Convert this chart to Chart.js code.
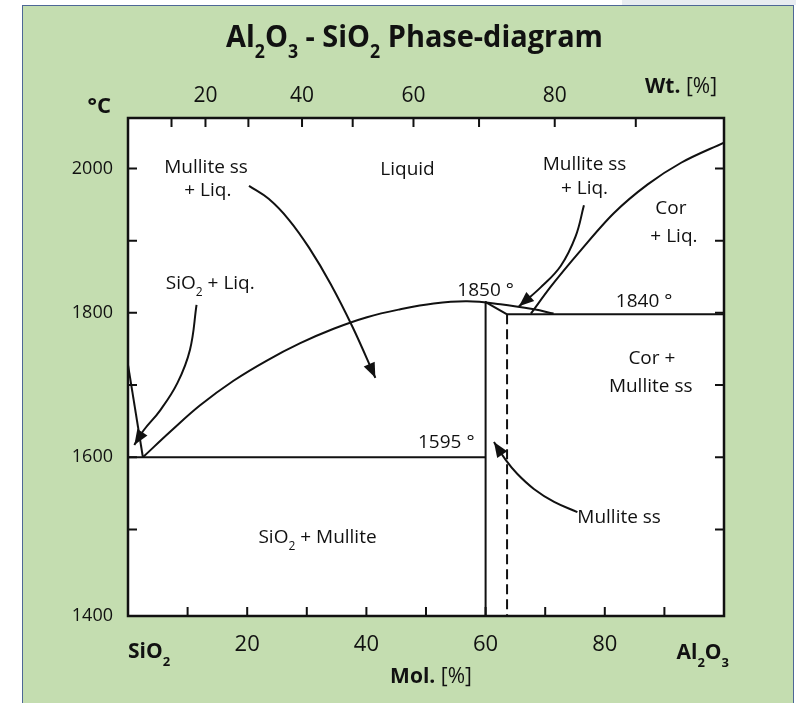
<!DOCTYPE html>
<html>
<head>
<meta charset="utf-8">
<title>Al2O3 - SiO2 Phase-diagram</title>
<script src="https://cdn.jsdelivr.net/npm/chart.js@4.4.1/dist/chart.umd.min.js"></script>
<style>
  html, body { margin: 0; padding: 0; background: #fff; }
  #wrap { position: relative; width: 796px; height: 703px; overflow: hidden; }
  #band { position: absolute; left: 622px; top: 0; width: 174px; height: 5px; background: #e8ecf1; }
  #panel { position: absolute; left: 22px; top: 5px; width: 770px; height: 720px; background: #c4ddb0; border: 1.5px solid #4d6796; }
  #chart { position: absolute; left: 0; top: 0; }
</style>
</head>
<body>
<div id="wrap">
  <div id="band"></div>
  <div id="panel"></div>
  <canvas id="chart" width="796" height="703"></canvas>
</div>
<script>
// x = mol.% Al2O3, y = temperature in °C

// phase boundaries
const liquidusSiO2X = [0, 2.5];
const liquidusSiO2T = [1728, 1600];
const liquidusMulliteX = [2.5, 7.3, 12.1, 17.7, 23.3, 28.9, 34.5, 40.1, 45.7, 51.3, 56.9, 62.5, 68.1, 71.4];
const liquidusMulliteT = [1600, 1637, 1672, 1706, 1734, 1758, 1778, 1794, 1805, 1813, 1816, 1812, 1805, 1799];
const liquidusCorX = [67.6, 70.9, 76.0, 81.5, 87.2, 92.8, 100];
const liquidusCorT = [1799, 1836, 1887, 1938, 1978, 2008, 2036];
const eutecticX = [0, 60];            // 1595 °
const eutecticT = [1600, 1600];
const peritecticX = [63.6, 100];      // 1840 °
const peritecticT = [1798, 1798];
const mulliteLeftX = [60, 60];
const mulliteLeftT = [1815, 1380];
const mulliteTopX = [60, 63.6];
const mulliteTopT = [1815, 1798];
const mulliteRightX = [63.6, 63.6];
const mulliteRightT = [1798, 1380];

// leader arrows (the last point is the arrow tip)
const arrowSiO2LiqX = [11.5, 10.4, 8.3, 5.4, 2.6, 1.06];
const arrowSiO2LiqT = [1811, 1749, 1703, 1665, 1637, 1617];
const arrowMulLiqLeftX = [20.3, 23.6, 27.0, 30.4, 34.0, 37.7, 41.5];
const arrowMulLiqLeftT = [1976, 1958, 1929, 1890, 1840, 1780, 1710];
const arrowMulLiqRightX = [76.5, 75.1, 72.6, 69.2, 65.6];
const arrowMulLiqRightT = [1949, 1906, 1865, 1835, 1809];
const arrowMulliteX = [75.4, 71.5, 68.1, 65.3, 63.4, 61.4];
const arrowMulliteT = [1524, 1538, 1556, 1577, 1596, 1621];

// axes
const molTicks = [10, 20, 30, 40, 50, 60, 70, 80, 90];
const molTickLabels = ['', '20', '', '40', '', '60', '', '80', ''];
const wtTickAtMol = [7.3, 13.0, 20.2, 29.2, 37.7, 47.9, 58.9, 71.6, 85.2];   // wt.% 10..90
const wtTickLabels = ['', '20', '', '40', '', '60', '', '80', ''];
// the drawing's 1400 line sits a little below the regular 100° spacing
const tempTicks = [1380, 1500, 1600, 1700, 1800, 1900, 2000];
const tempTickLabels = ['1400', '', '1600', '', '1800', '', '2000'];

// field labels, anchored at (mol.%, °C)
const fieldText = ['Mullite ss', '+ Liq.', 'Liquid', 'Mullite ss', '+ Liq.', 'Cor', '+ Liq.',
  'SiO_2 + Liq.', '1850 °', '1840 °', 'Cor +', 'Mullite ss', '1595 °', 'Mullite ss', 'SiO_2 + Mullite'];
const fieldX = [13.1, 13.4, 46.9, 76.6, 76.6, 91.1, 91.6, 13.8, 60, 86.6, 87.9, 87.7, 53.4, 82.4, 31.8];
const fieldT = [2003, 1971, 2001, 2008, 1974, 1947, 1907, 1843, 1833, 1818, 1739, 1700, 1622, 1518, 1490];

const FAMILY = "'Open Sans', 'Noto Sans', sans-serif";
const INK = '#111';
Chart.defaults.font.family = FAMILY;
Chart.defaults.color = INK;

const toPoints = (xs, ts) => xs.map((x, i) => ({ x, y: ts[i] }));
const series = (xs, ts, extra) => Object.assign({
  data: toPoints(xs, ts),
  showLine: true,
  borderColor: INK,
  borderWidth: 2,
  borderJoinStyle: 'round',
  pointRadius: 0,
  tension: 0,
  fill: false
}, extra);

// '*' toggles bold, '_' makes the next character a subscript
function parseRich(str) {
  const runs = [];
  let bold = false;
  for (let i = 0; i < str.length; i++) {
    const c = str[i];
    if (c === '*') { bold = !bold; continue; }
    if (c === '_') { runs.push({ t: str[++i], bold, sub: true }); continue; }
    const last = runs[runs.length - 1];
    if (last && !last.sub && last.bold === bold) last.t += c;
    else runs.push({ t: c, bold, sub: false });
  }
  return runs;
}

function drawRich(ctx, str, x, y, size, opts = {}) {
  const runs = parseRich(str);
  const fontOf = r => (r.bold ? '700 ' : '') + (r.sub ? Math.round(size * 0.62) : size) + 'px ' + FAMILY;
  let total = 0;
  runs.forEach(r => { ctx.font = fontOf(r); r.w = ctx.measureText(r.t).width; total += r.w; });
  const sx = opts.fit ? opts.fit / total : 1;
  const w = total * sx;
  let cx = opts.align === 'left' ? x : opts.align === 'right' ? x - w : x - w / 2;
  ctx.save();
  ctx.textBaseline = 'alphabetic';
  ctx.textAlign = 'left';
  ctx.fillStyle = INK;
  runs.forEach(r => {
    ctx.font = fontOf(r);
    ctx.save();
    ctx.translate(cx, y + (r.sub ? size * 0.36 : 0));
    ctx.scale(sx, 1);
    ctx.fillText(r.t, 0, 0);
    ctx.restore();
    cx += r.w * sx;
  });
  ctx.restore();
}

const plotBackground = {
  id: 'plotBackground',
  beforeDraw(chart) {
    const { ctx, chartArea: a } = chart;
    ctx.save();
    ctx.fillStyle = '#fff';
    ctx.fillRect(a.left, a.top, a.right - a.left, a.bottom - a.top);
    ctx.restore();
  }
};

const frameAndTicks = {
  id: 'frameAndTicks',
  afterDatasetsDraw(chart) {
    const { ctx, chartArea: a, scales } = chart;
    const len = 9;
    ctx.save();
    ctx.strokeStyle = INK;
    ctx.lineWidth = 2;
    ctx.beginPath();
    scales.x.ticks.forEach(t => {
      const px = scales.x.getPixelForValue(t.value);
      ctx.moveTo(px, a.bottom); ctx.lineTo(px, a.bottom - len);
    });
    scales.x2.ticks.forEach(t => {
      const px = scales.x2.getPixelForValue(t.value);
      ctx.moveTo(px, a.top); ctx.lineTo(px, a.top + len);
    });
    scales.y.ticks.forEach(t => {
      if (t.value <= scales.y.min) return;
      const py = scales.y.getPixelForValue(t.value);
      ctx.moveTo(a.left, py); ctx.lineTo(a.left + len, py);
      ctx.moveTo(a.right, py); ctx.lineTo(a.right - len, py);
    });
    ctx.stroke();
    ctx.lineWidth = 2.5;
    ctx.strokeRect(a.left, a.top, a.right - a.left, a.bottom - a.top);
    ctx.restore();
  }
};

const arrowHeads = {
  id: 'arrowHeads',
  afterDatasetsDraw(chart) {
    const ctx = chart.ctx;
    ctx.save();
    ctx.fillStyle = INK;
    chart.data.datasets.forEach((ds, i) => {
      if (!ds.arrowHead) return;
      const pts = chart.getDatasetMeta(i).data;
      const tip = pts[pts.length - 1];
      let fx = tip.cp1x, fy = tip.cp1y;
      if (fx === undefined || Math.hypot(fx - tip.x, fy - tip.y) < 1) {
        fx = pts[pts.length - 2].x; fy = pts[pts.length - 2].y;
      }
      const ang = Math.atan2(tip.y - fy, tip.x - fx);
      const L = 15, W = 6, c = Math.cos(ang), s = Math.sin(ang);
      ctx.beginPath();
      ctx.moveTo(tip.x, tip.y);
      ctx.lineTo(tip.x - L * c + W * s, tip.y - L * s - W * c);
      ctx.lineTo(tip.x - L * c - W * s, tip.y - L * s + W * c);
      ctx.closePath();
      ctx.fill();
    });
    ctx.restore();
  }
};

const texts = {
  id: 'texts',
  afterDraw(chart) {
    const { ctx, chartArea: a, scales } = chart;
    const size = 19;
    fieldText.forEach((t, i) => {
      const px = scales.x.getPixelForValue(fieldX[i]);
      const py = scales.y.getPixelForValue(fieldT[i]);
      drawRich(ctx, t, px, py + size * 0.36, size);
    });
    drawRich(ctx, '*Al_2O_3 - SiO_2 Phase-diagram*', 414.5, 47, 31, { fit: 377 });
    drawRich(ctx, '*°C*', a.left - 17, a.top - 5, 22, { align: 'right' });
    drawRich(ctx, '*Wt.* [%]', a.right - 7, a.top - 25, 21, { align: 'right' });
    drawRich(ctx, '*SiO_2*', a.left, a.bottom + 42, 21, { align: 'left' });
    drawRich(ctx, '*Al_2O_3*', a.right + 5, a.bottom + 43, 21, { align: 'right' });
    drawRich(ctx, '*Mol.* [%]', (a.left + a.right) / 2 + 5, a.bottom + 67, 21);
  }
};

new Chart(document.getElementById('chart'), {
  type: 'scatter',
  data: {
    datasets: [
      series(liquidusSiO2X, liquidusSiO2T),
      series(liquidusMulliteX, liquidusMulliteT, { tension: 0.4 }),
      series(liquidusCorX, liquidusCorT, { cubicInterpolationMode: 'monotone' }),
      series(eutecticX, eutecticT),
      series(peritecticX, peritecticT),
      series(mulliteLeftX, mulliteLeftT),
      series(mulliteTopX, mulliteTopT),
      series(mulliteRightX, mulliteRightT, { borderDash: [10, 5] }),
      series(arrowSiO2LiqX, arrowSiO2LiqT, { tension: 0.4, arrowHead: true }),
      series(arrowMulLiqLeftX, arrowMulLiqLeftT, { tension: 0.4, arrowHead: true }),
      series(arrowMulLiqRightX, arrowMulLiqRightT, { tension: 0.4, arrowHead: true }),
      series(arrowMulliteX, arrowMulliteT, { tension: 0.4, arrowHead: true })
    ]
  },
  options: {
    responsive: false,
    animation: false,
    layout: { padding: { right: 72 } },
    plugins: {
      legend: { display: false },
      tooltip: { enabled: false },
      title: { display: false }
    },
    scales: {
      x: {
        type: 'linear',
        position: 'bottom',
        min: 0,
        max: 100,
        grid: { display: false, drawTicks: false },
        border: { display: false },
        afterBuildTicks: s => { s.ticks = molTicks.map(v => ({ value: v })); },
        afterFit: s => { s.height = 87; },
        ticks: {
          autoSkip: false,
          maxRotation: 0,
          padding: 16,
          font: { size: 22 },
          callback: (v, i) => molTickLabels[i]
        }
      },
      x2: {
        type: 'linear',
        position: 'top',
        min: 0,
        max: 100,
        grid: { display: false, drawTicks: false },
        border: { display: false },
        afterBuildTicks: s => { s.ticks = wtTickAtMol.map(v => ({ value: v })); },
        afterFit: s => { s.height = 118; },
        ticks: {
          autoSkip: false,
          maxRotation: 0,
          padding: 9,
          font: { size: 21 },
          callback: (v, i) => wtTickLabels[i]
        }
      },
      y: {
        type: 'linear',
        position: 'left',
        min: 1380,
        max: 2070,
        grid: { display: false, drawTicks: false },
        border: { display: false },
        afterBuildTicks: s => { s.ticks = tempTicks.map(v => ({ value: v })); },
        afterFit: s => { s.width = 128; },
        ticks: {
          autoSkip: false,
          padding: 15,
          font: { size: 18 },
          callback: (v, i) => tempTickLabels[i]
        }
      }
    }
  },
  plugins: [plotBackground, frameAndTicks, arrowHeads, texts]
});
</script>
</body>
</html>
